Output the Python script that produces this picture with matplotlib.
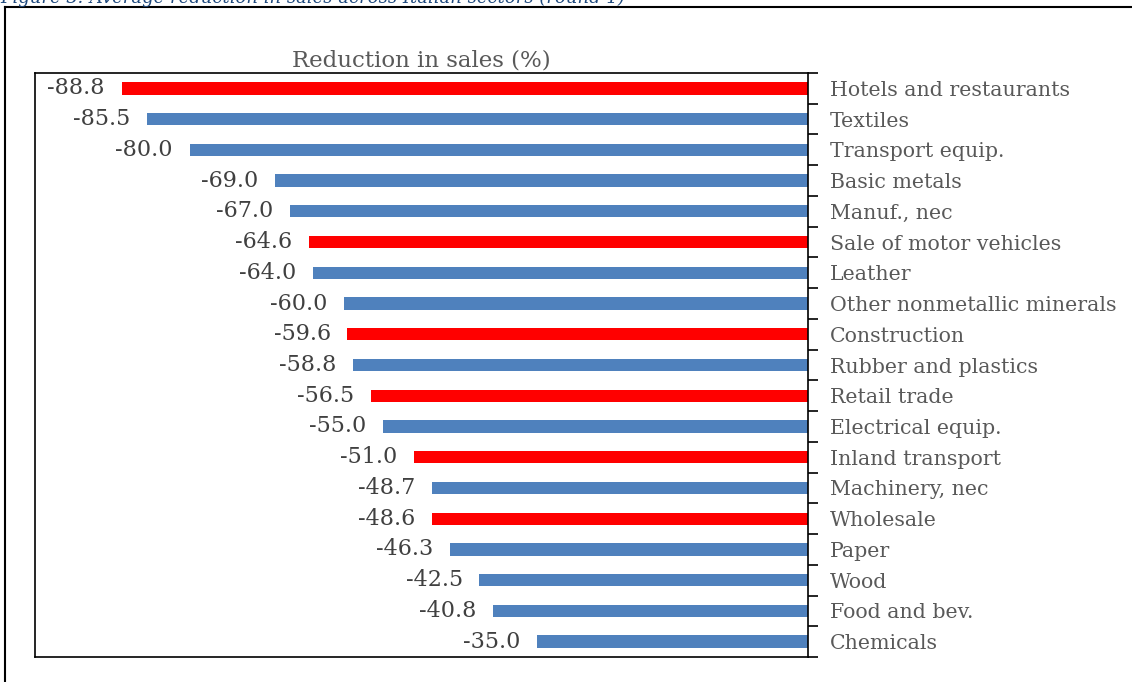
from matplotlib import pyplot as plt
from matplotlib.lines import Line2D
from typing import List

sectors: List[str] = [
    "Hotels and restaurants", "Textiles", "Transport equip.", "Basic metals",
    "Manuf., nec", "Sale of motor vehicles", "Leather", "Other nonmetallic minerals",
    "Construction", "Rubber and plastics", "Retail trade", "Electrical equip.",
    "Inland transport", "Machinery, nec", "Wholesale", "Paper", "Wood",
    "Food and bev.", "Chemicals",
]
reduction: List[float] = [
    -88.8, -85.5, -80.0, -69.0, -67.0, -64.6, -64.0, -60.0, -59.6, -58.8,
    -56.5, -55.0, -51.0, -48.7, -48.6, -46.3, -42.5, -40.8, -35.0,
]
services: List[str] = [
    "Hotels and restaurants", "Sale of motor vehicles", "Construction",
    "Retail trade", "Inland transport", "Wholesale",
]


def reduction_in_sales_bar_chart() -> None:
    """Horizontal bars, services in red, manufacturing in blue"""
    plt.rcParams['font.family'] = ['DejaVu Serif']
    fig = plt.figure(figsize=(11.32, 6.82), dpi=100)
    ax = fig.add_axes([35 / 1132, 1 - 657 / 682, 773 / 1132, 584 / 682])

    colors = ['#FF0000' if s in services else '#4F81BD' for s in sectors]
    ypos = list(range(len(sectors)))
    ax.barh(ypos, reduction, height=0.4, color=colors)

    for y, v in zip(ypos, reduction):
        ax.annotate(f"{v:.1f}", xy=(v, y), xytext=(-12, 0), textcoords='offset points',
                    ha='right', va='center', fontsize=16, color='#404040')

    ax.set_xlim(-100, 0)
    ax.set_ylim(len(sectors) - 0.5, -0.5)
    ax.set_xticks([])
    ax.yaxis.tick_right()
    ax.set_yticks([y - 0.5 for y in ypos] + [len(sectors) - 0.5])
    ax.set_yticklabels([])
    ax.set_yticks(ypos, minor=True)
    ax.set_yticklabels(sectors, minor=True, fontsize=14.8, color='#595959')
    ax.tick_params(axis='y', which='major', direction='out', length=7, width=1.2, color='black')
    ax.tick_params(axis='y', which='minor', length=0, pad=16)
    for side in ['left', 'right', 'top', 'bottom']:
        ax.spines[side].set_linewidth(1.2)
        ax.spines[side].set_color('black')

    ax.set_title("Reduction in sales (%)", fontsize=16.5, color='#595959', pad=5)

    # outer frame of the figure box
    fig.add_artist(Line2D([5 / 1132, 5 / 1132], [0, 1 - 7 / 682], transform=fig.transFigure,
                          color='black', linewidth=1.5))
    fig.add_artist(Line2D([5 / 1132, 1], [1 - 7 / 682, 1 - 7 / 682], transform=fig.transFigure,
                          color='black', linewidth=1.5))
    fig.text(0.0, 1 - 3 / 682,
             "Figure 3: Average reduction in sales across Italian sectors (round 1)",
             fontsize=13, style='italic', color='#1F497D', va='baseline', ha='left')

    fig.savefig("out.png", dpi=100)


if __name__ == '__main__':
    reduction_in_sales_bar_chart()
